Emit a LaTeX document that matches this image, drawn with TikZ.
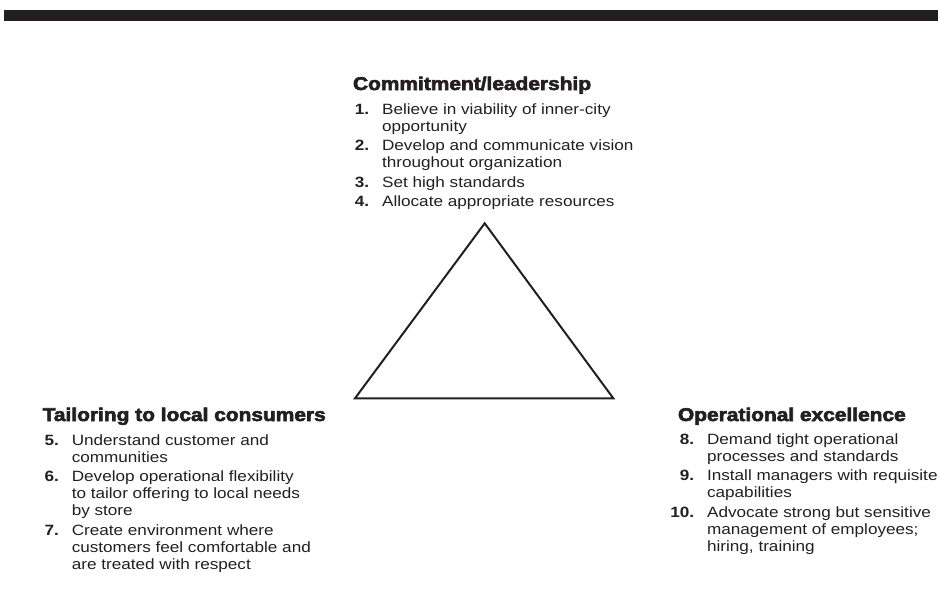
\documentclass[tikz,border=0pt]{standalone}
\usepackage{fontspec}
\setmainfont{Liberation Sans}
\newfontfamily\headfont[BoldFeatures={FakeBold=3}]{Liberation Sans}
\usepackage{array}
\usepackage{tikz}
\usetikzlibrary{positioning}
\definecolor{ink}{RGB}{35,31,32}
\tikzset{hdr/.style={anchor=base west, inner sep=0pt, outer sep=0pt, text=ink, xscale=1.13, font=\headfont\bfseries\fontsize{18.5}{20}\selectfont}}
\tikzset{lst/.style={inner sep=0pt, outer sep=0pt, text=ink, xscale=1.15, font=\fontsize{14.9}{17}\selectfont}}
\tikzset{tri/.style={draw=ink, line width=2pt, line join=miter}}
\newcommand\itemno[1]{\makebox[14pt][r]{\bfseries #1}}
\newcommand\gapx{\\[2.5pt]}

\begin{document}
\begin{tikzpicture}[x=1pt, y=-1pt]
	\useasboundingbox (0,0) rectangle (938,603);
	\fill[ink] (4,10) rectangle (938,20.5);

	\coordinate (apex) at (484.7,223.3);
	\coordinate (baseL) at (355,398.3);
	\coordinate (baseR) at (613.3,398.3);
	\draw[tri] (apex) -- (baseR) -- (baseL) -- cycle;

	\node[hdr] (tophead) at (353,90) {Commitment/leadership};
	\node[lst, below=24pt of tophead.base west, anchor=base west] (toplist) {%
		\begin{tabular}[t]{@{}l@{\hspace{11.3pt}}l@{}}
		\itemno{1.} & Believe in viability of inner-city\\
		 & opportunity\gapx
		\itemno{2.} & Develop and communicate vision\\
		 & throughout organization\gapx
		\itemno{3.} & Set high standards\gapx
		\itemno{4.} & Allocate appropriate resources
		\end{tabular}};

	\node[hdr] (lefthead) at (42.7,421) {Tailoring to local consumers};
	\node[lst, below=24pt of lefthead.base west, anchor=base west] (leftlist) {%
		\begin{tabular}[t]{@{}l@{\hspace{11.3pt}}l@{}}
		\itemno{5.} & Understand customer and\\
		 & communities\gapx
		\itemno{6.} & Develop operational flexibility\\
		 & to tailor offering to local needs\\
		 & by store\gapx
		\itemno{7.} & Create environment where\\
		 & customers feel comfortable and\\
		 & are treated with respect
		\end{tabular}};

	\node[hdr] (righthead) at (678,421) {Operational excellence};
	\node[lst, below=23pt of righthead.base west, anchor=base west] (rightlist) {%
		\begin{tabular}[t]{@{}l@{\hspace{11.3pt}}l@{}}
		\itemno{8.} & Demand tight operational\\
		 & processes and standards\gapx
		\itemno{9.} & Install managers with requisite\\
		 & capabilities\gapx
		\itemno{10.} & Advocate strong but sensitive\\
		 & management of employees;\\
		 & hiring, training
		\end{tabular}};
\end{tikzpicture}
\end{document}
